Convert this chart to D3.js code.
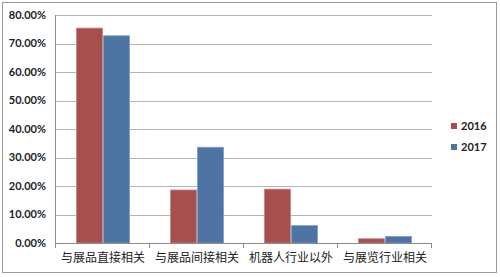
<!DOCTYPE html>
<html>
<head>
<meta charset="utf-8">
<script src="https://cdn.jsdelivr.net/npm/d3@7"></script>
<style>
  body { margin: 0; background: #fff; }
</style>
</head>
<body>
<svg id="chart" width="500" height="277"></svg>
<script>
const categories = ['与展品直接相关', '与展品间接相关', '机器人行业以外', '与展览行业相关']
const seriesNames = ['2016', '2017']
const values2016 = [75.4, 18.6, 18.9, 1.5]
const values2017 = [72.7, 33.6, 6.1, 2.3]
const yTicks = [0, 10, 20, 30, 40, 50, 60, 70, 80]

const svg = d3.select('#chart')
const colors = ['#A64F4E', '#4E74A3']
const strokes = ['#C98584', '#7E9CC4']

const plotLeft = 56, plotRight = 432, plotTop = 15, plotBottom = 243

// frame
svg.append('rect')
  .attr('x', 2.5).attr('y', 2.5)
  .attr('width', 494).attr('height', 270)
  .attr('fill', '#fff')
  .attr('stroke', '#9a9a9a')

const x0 = d3.scaleBand()
  .domain(categories)
  .range([plotLeft, plotRight])
  .paddingInner(0)
  .paddingOuter(0)

const x1 = d3.scaleBand()
  .domain(seriesNames)
  .range([0, x0.bandwidth()])
  .paddingOuter(0.74)

const y = d3.scaleLinear()
  .domain([0, 80])
  .range([plotBottom, plotTop])

// gridlines
svg.append('g')
  .selectAll('line')
  .data(yTicks)
  .enter()
  .append('line')
    .attr('x1', plotLeft).attr('x2', plotRight)
    .attr('y1', d => Math.round(y(d)) + 0.5)
    .attr('y2', d => Math.round(y(d)) + 0.5)
    .attr('stroke', '#b3b3b3')

// y labels
svg.append('g')
  .selectAll('text')
  .data(yTicks)
  .enter()
  .append('text')
    .attr('x', 46)
    .attr('y', d => y(d))
    .attr('dy', '0.35em')
    .attr('text-anchor', 'end')
    .style('font-family', 'Lato, "Open Sans", sans-serif')
    .style('font-size', '11px')
    .style('font-weight', 'bold')
    .style('fill', '#222')
    .text(d => d.toFixed(2) + '%')

// left axis line
svg.append('line')
  .attr('x1', plotLeft - 0.5).attr('x2', plotLeft - 0.5)
  .attr('y1', plotTop).attr('y2', plotBottom + 0.5)
  .attr('stroke', '#8c8c8c')

// bars
const data = categories.map((c, i) => ({ cat: c, vals: [values2016[i], values2017[i]] }))

const group = svg.selectAll('g.cat')
  .data(data)
  .enter()
  .append('g')
    .attr('class', 'cat')
    .attr('transform', d => `translate(${x0(d.cat)}, 0)`)

group.selectAll('rect')
  .data(d => d.vals.map((v, j) => ({ name: seriesNames[j], v: v, j: j })))
  .enter()
  .append('rect')
    .attr('x', d => x1(d.name) + 0.5)
    .attr('y', d => y(d.v))
    .attr('width', x1.bandwidth() - 1)
    .attr('height', d => plotBottom - y(d.v))
    .attr('fill', d => colors[d.j])
    .attr('stroke', d => strokes[d.j])
    .attr('stroke-width', 0.8)

// x axis
svg.append('line')
  .attr('x1', plotLeft).attr('x2', plotRight)
  .attr('y1', plotBottom + 0.5).attr('y2', plotBottom + 0.5)
  .attr('stroke', '#8c8c8c')

const tickPos = categories.map(c => x0(c)).concat([plotRight])
svg.append('g')
  .selectAll('line')
  .data(tickPos)
  .enter()
  .append('line')
    .attr('x1', d => Math.round(d) - 0.5).attr('x2', d => Math.round(d) - 0.5)
    .attr('y1', plotBottom).attr('y2', plotBottom + 5)
    .attr('stroke', '#8c8c8c')

svg.append('g')
  .selectAll('text')
  .data(categories)
  .enter()
  .append('text')
    .attr('x', d => x0(d) + x0.bandwidth() / 2)
    .attr('y', 258)
    .attr('dy', '0.35em')
    .attr('text-anchor', 'middle')
    .style('font-family', '"Noto Sans CJK SC", sans-serif')
    .style('font-size', '12px')
    .style('fill', '#222')
    .text(d => d)

// legend
const legend = svg.append('g')
seriesNames.forEach((s, i) => {
  legend.append('rect')
    .attr('x', 451).attr('y', 123 + i * 21)
    .attr('width', 6).attr('height', 6)
    .attr('fill', colors[i])
  legend.append('text')
    .attr('x', 461).attr('y', 126.5 + i * 21)
    .attr('dy', '0.35em')
    .style('font-family', 'Lato, "Open Sans", sans-serif')
    .style('font-size', '11px')
    .style('font-weight', 'bold')
    .style('fill', '#222')
    .text(s)
})
</script>
</body>
</html>
